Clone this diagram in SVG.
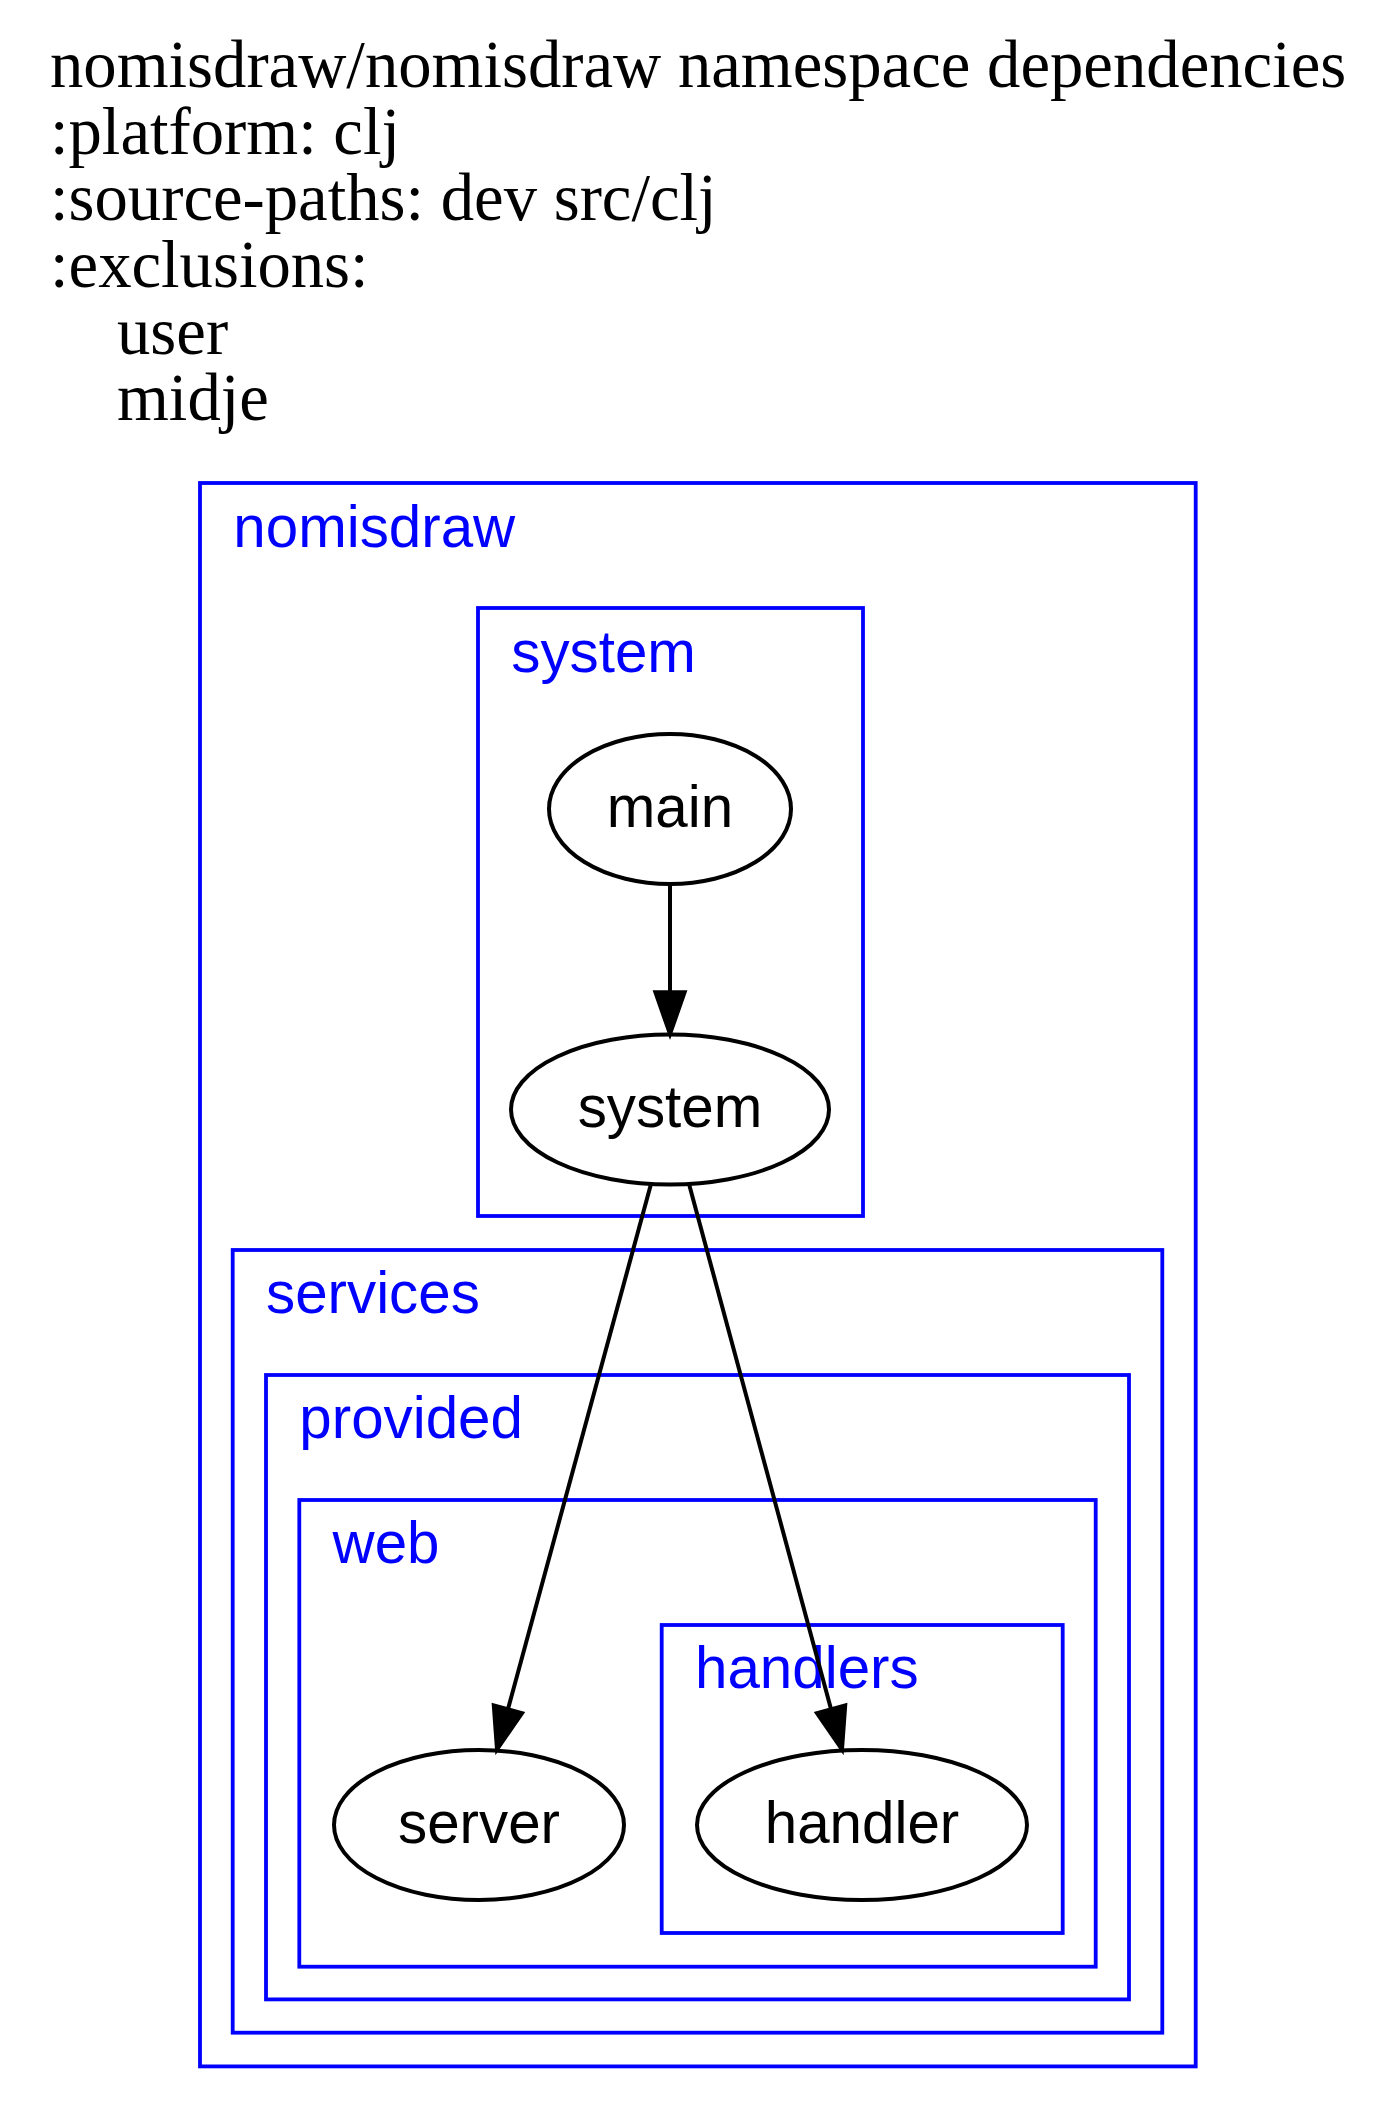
<svg xmlns="http://www.w3.org/2000/svg" width="1396" height="2117" viewBox="0 0 1396 2117">
<style>
.title{font-family:"Liberation Serif","Times New Roman",serif;font-size:66.7px;fill:#000}
.cl{fill:none;stroke:#0000ff;stroke-width:3.8}
.cll{font-family:"Liberation Sans",Arial,Helvetica,sans-serif;font-size:58.3px;fill:#0000ff}
.nd{fill:none;stroke:#000;stroke-width:4}
.ndl{font-family:"Liberation Sans",Arial,Helvetica,sans-serif;font-size:58.3px;fill:#000;text-anchor:middle}
.edge{fill:none;stroke:#000;stroke-width:4}
.head{fill:#000;stroke:#000;stroke-width:4;stroke-linejoin:miter}
</style>
<rect x="0" y="0" width="1396" height="2117" fill="#fff"/>
<g id="title">
<text class="title" x="50" y="87">nomisdraw/nomisdraw namespace dependencies</text>
<text class="title" x="50" y="153.5">:platform: clj</text>
<text class="title" x="50" y="220">:source-paths: dev src/clj</text>
<text class="title" x="50" y="287">:exclusions:</text>
<text class="title" x="117" y="353.5">user</text>
<text class="title" x="117" y="420">midje</text>
</g>
<g id="cluster_nomisdraw">
<rect class="cl" x="200" y="483" width="995.7" height="1583.4"/>
<text class="cll" x="233.3" y="547">nomisdraw</text>
</g>
<g id="cluster_system">
<rect class="cl" x="478" y="608" width="385" height="608"/>
<text class="cll" x="511.3" y="672">system</text>
</g>
<g id="cluster_services">
<rect class="cl" x="232.7" y="1250" width="929.6" height="782.7"/>
<text class="cll" x="266" y="1313.3">services</text>
</g>
<g id="cluster_provided">
<rect class="cl" x="266" y="1375" width="863" height="624.4"/>
<text class="cll" x="299.3" y="1438.3">provided</text>
</g>
<g id="cluster_web">
<rect class="cl" x="299.3" y="1500" width="796.4" height="466.7"/>
<text class="cll" x="332.6" y="1563.3">web</text>
</g>
<g id="cluster_handlers">
<rect class="cl" x="661.7" y="1625" width="401" height="308"/>
<text class="cll" x="695" y="1688.3">handlers</text>
</g>
<g id="node_main">
<ellipse class="nd" cx="670" cy="809" rx="121" ry="75"/>
<text class="ndl" x="670" y="827">main</text>
</g>
<g id="node_system">
<ellipse class="nd" cx="670" cy="1109.5" rx="159" ry="75"/>
<text class="ndl" x="670" y="1127">system</text>
</g>
<g id="node_server">
<ellipse class="nd" cx="479" cy="1825" rx="145" ry="75"/>
<text class="ndl" x="479" y="1843">server</text>
</g>
<g id="node_handler">
<ellipse class="nd" cx="862" cy="1825" rx="165" ry="75"/>
<text class="ndl" x="862" y="1843">handler</text>
</g>
<g id="edges">
<path class="edge" d="M670,884 L670,992"/>
<polygon class="head" points="655.4,992.3 684.6,992.3 670,1034"/>
<path class="edge" d="M651,1184 L508,1709"/>
<polygon class="head" points="522,1713.1 493.8,1705.5 497,1749.5"/>
<path class="edge" d="M689,1184 L831,1709"/>
<polygon class="head" points="845.2,1705.4 817,1713.1 842,1749.5"/>
</g>
</svg>
